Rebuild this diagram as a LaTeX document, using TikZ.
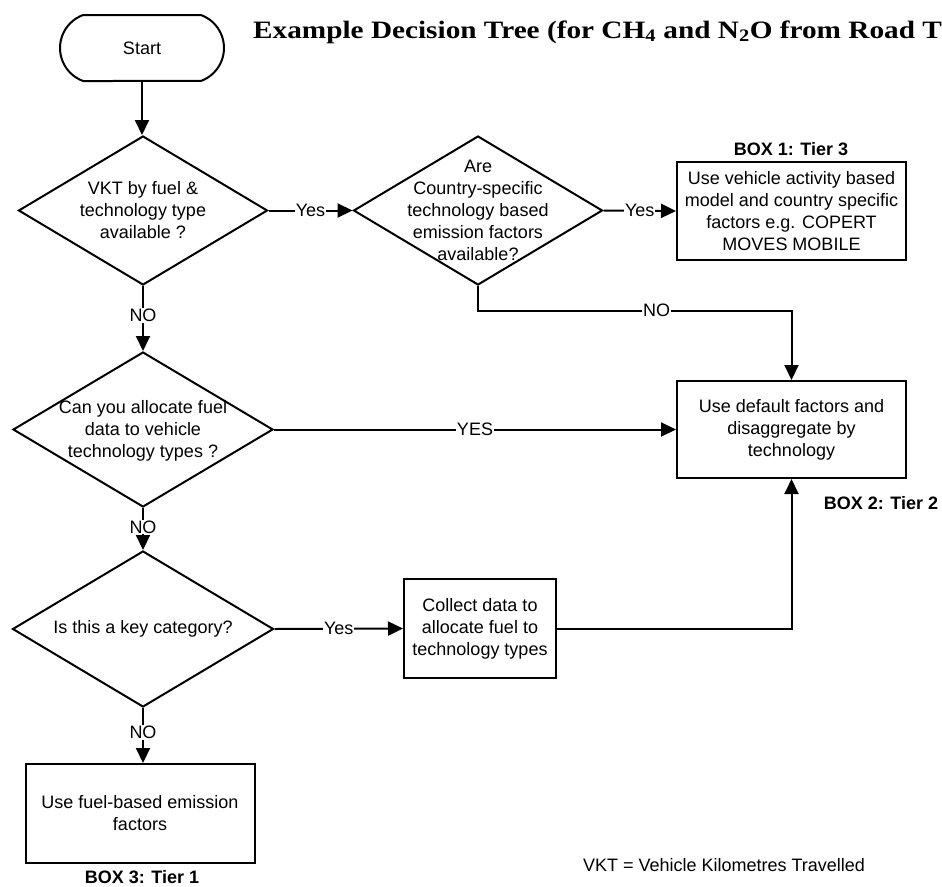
\documentclass[tikz,border=0pt]{standalone}
\usepackage{fontspec}
\setmainfont{Liberation Sans}
\newfontfamily\titlefont{Liberation Serif}
\usetikzlibrary{shapes.geometric,shapes.misc,arrows.meta}
\begin{document}
\begin{tikzpicture}[x=1pt,y=-1pt,
  every node/.style={font=\fontsize{18}{22}\selectfont},
  arr/.style={line width=2pt,-{Triangle[length=15pt,width=14pt]}},
  dia/.style={diamond,draw,line width=2pt,inner sep=0pt},
  box/.style={rectangle,draw,line width=2pt,align=center,inner sep=0pt},
  txt/.style={align=center,inner sep=0pt},
  lab/.style={fill=white,inner sep=1pt},
  tier/.style={font=\bfseries\fontsize{18}{22}\selectfont}]
\fill[white] (0,0) rectangle (942,886);
\useasboundingbox (0,0) rectangle (942,886);

% title
\node[anchor=base west,inner sep=0pt,font=\titlefont\bfseries\fontsize{25}{30}\selectfont] (title) at (253,38)
  {\scalebox{1.17}[1]{Example Decision Tree (for CH\textsubscript{4} and N\textsubscript{2}O from Road T}};

% start
\node[draw,line width=2pt,rounded rectangle,rounded rectangle arc length=140,
      minimum width=164,minimum height=66,inner sep=0pt] (start) at (142,48) {Start};

% diamonds
\node[dia,minimum width=249,minimum height=149] (d1) at (143,210.5) {};
\node[txt] (d1t) at (143,210.5) {VKT by fuel \&\\technology type\\available ?};

\node[dia,minimum width=249,minimum height=149] (d2) at (478,210.5) {};
\node[txt] (d2t) at (478,210.5) {Are\\Country-specific\\technology based\\emission factors\\available?};

\node[dia,minimum width=260,minimum height=155] (d3) at (143,429.5) {};
\node[txt] (d3t) at (143,430.5) {Can you allocate fuel\\data to vehicle\\technology types ?};

\node[dia,minimum width=261,minimum height=156] (d4) at (143,629) {};
\node[txt] (d4t) at (143,629) {Is this a key category?};

% boxes
\node[box,minimum width=229,minimum height=98] (box1) at (791.5,211)
  {Use vehicle activity based\\model and country specific\\factors e.g. COPERT\\MOVES MOBILE};
\node[tier] (box1l) at (791,149) {BOX 1: Tier 3};

\node[box,minimum width=229,minimum height=97] (box2) at (791.5,429.5)
  {Use default factors and\\disaggregate by\\technology};
\node[tier] (box2l) at (881,503) {BOX 2: Tier 2};

\node[box,minimum width=152,minimum height=99] (collect) at (480,628.5)
  {Collect data to\\allocate fuel to\\technology types};

\node[box,minimum width=229,minimum height=99] (box3) at (140,813.5)
  {Use fuel-based emission\\factors};
\node[tier,anchor=base] (box3l) at (142,883) {BOX 3: Tier 1};

\node (note) at (724,865) {VKT = Vehicle Kilometres Travelled};

% connectors
\draw[arr] (start.south) -- (start.south |- d1.north);
\draw[arr] (d1.east) -- node[lab] {Yes} (d2.west);
\draw[arr] (d2.east) -- node[lab] {Yes} (box1.west);
\draw[arr] (d2.south) -- ++(0,24.5) -| node[lab,pos=0.285] {NO} (box2.north);
\draw[arr] (d1.south) -- node[lab,pos=0.45] {NO} (d3.north);
\draw[arr] (d3.east) -- node[lab] {YES} (box2.west);
\draw[arr] (d3.south) -- node[lab,pos=0.45] {NO} (d4.north);
\draw[arr] (d4.east) -- node[lab] {Yes} (collect.west);
\draw[arr] (collect.east) -| (box2.south);
\draw[arr] (d4.south) -- node[lab,pos=0.45] {NO} (d4.south |- box3.north);
\end{tikzpicture}
\end{document}
